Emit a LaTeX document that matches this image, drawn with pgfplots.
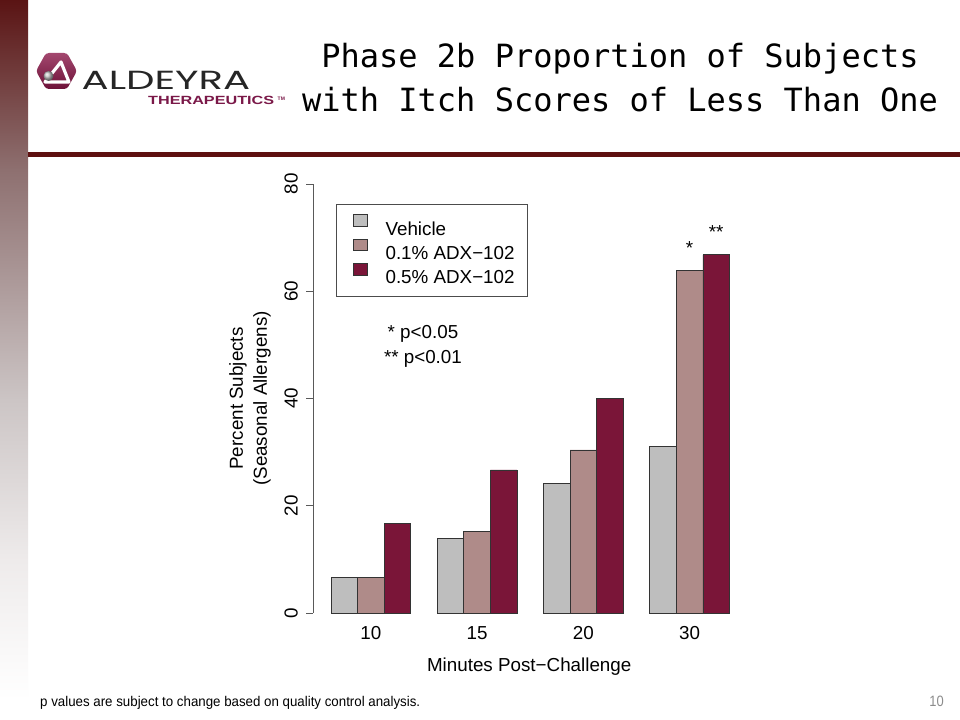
\documentclass[border=0pt]{standalone}
\usepackage{pgfplots}
\pgfplotsset{compat=1.18}
\usepackage{graphicx}
\usepackage{fontspec}
\setmainfont{Liberation Sans}
\newfontfamily\titlefont{DejaVu Sans Mono}
\newfontfamily\logofont{Poppins}
\newfontfamily\narrowfont{Liberation Sans}[FakeStretch=0.86]

\definecolor{vehc}{HTML}{BEBEBE}
\definecolor{lowc}{HTML}{AF8B89}
\definecolor{highc}{HTML}{7A1538}
\definecolor{rulec}{HTML}{5E1010}
\definecolor{logoc}{HTML}{8C1A4B}
\definecolor{logod}{HTML}{6E1238}
\definecolor{therac}{HTML}{7A1848}
\definecolor{sa}{HTML}{5A1414}
\definecolor{sb}{HTML}{8E7070}
\definecolor{sc}{HTML}{CCC5C5}
\definecolor{sd}{HTML}{EEEBEB}

\pgfdeclareverticalshading{leftbar}{100bp}{color(0bp)=(white); color(26.4bp)=(white); color(36.1bp)=(sd); color(47.2bp)=(sc); color(63.2bp)=(sb); color(75bp)=(sa); color(100bp)=(sa)}

\begin{document}
\begin{tikzpicture}[x=1bp,y=1bp]
\fill[white] (0,0) rectangle (960,720);
\useasboundingbox (0,0) rectangle (960,720);
\shade[shading=leftbar] (0,0) rectangle (28,720);
\fill[rulec] (28,563.3) rectangle (960,568.3);

% logo
\shade[top color=logoc!80!white, bottom color=logod, rounded corners=3bp]
  (36,649) -- (46,667) -- (67,667) -- (77,649) -- (67,631) -- (46,631) -- cycle;
\draw[white, line width=3.2bp, line join=round] (61,658) -- (45,638) -- (69,638) -- cycle;
\shade[ball color=black!25] (48.5,644) circle (5bp);
\node[anchor=south west, inner sep=0pt, text=black!85] at (81.5,630)
  {\resizebox{168.5bp}{18.3bp}{\logofont ALDEYRA}};
\node[anchor=south west, inner sep=0pt, text=therac] at (148,614.7)
  {\resizebox{126bp}{8.3bp}{\bfseries THERAPEUTICS}};
\node[anchor=north west, inner sep=0pt, text=therac, font=\bfseries\fontsize{5bp}{5bp}\selectfont] at (277.5,623)
  {TM};

% title
\node[anchor=base, inner sep=0pt, font=\titlefont\fontsize{32bp}{44bp}\selectfont] at (620,652)
  {Phase 2b Proportion of Subjects};
\node[anchor=base, inner sep=0pt, font=\titlefont\fontsize{32bp}{44bp}\selectfont] at (620,608)
  {with Itch Scores of Less Than One};

\begin{axis}[
  at={(313bp,107bp)}, anchor=south west,
  scale only axis, width=432.4bp, height=429bp,
  xmin=0.32, xmax=16.6, ymin=0, ymax=80,
  axis y line*=left, axis x line*=bottom,
  x axis line style={draw=none},
  y axis line style={black!65, line width=0.9bp},
  ytick={0,20,40,60,80},
  xtick={2.5,6.5,10.5,14.5}, xticklabels={10,15,20,30},
  tick align=outside,
  major tick length=7bp,
  xtick style={draw=none},
  ytick style={black!65, line width=0.9bp},
  yticklabel style={rotate=90, anchor=south, inner sep=0pt, yshift=8bp},
  xticklabel style={anchor=base, inner sep=0pt, yshift=-19.5bp},
  tick label style={font=\fontsize{18.8bp}{22bp}\selectfont},
  /pgf/number format/assume math mode=true,
  label style={font=\fontsize{18.8bp}{24bp}\selectfont},
  xlabel={Minutes Post−Challenge},
  xlabel style={at={(axis description cs:0.5,-0.1368)}, anchor=base, inner sep=0pt},
  ylabel={Percent Subjects\\(Seasonal Allergens)},
  ylabel style={at={(axis description cs:-0.1457,0.5)}, anchor=center, align=center, inner sep=0pt},
  ybar, bar width=1,
  clip=false,
  legend cell align=left,
  legend image code/.code={\path (0bp,0bp); \draw[#1, draw=black!80, line width=0.8bp] (3.6bp,1.5bp) rectangle (17.9bp,13.1bp);},
  legend style={at={(axis description cs:0.0532,0.9534)}, anchor=north west,
    draw=black!70, line width=0.9bp, inner xsep=13bp, inner ysep=10bp,
    row sep=1bp, column sep=17.4bp,
    font=\fontsize{18.8bp}{22bp}\selectfont,
    nodes={inner sep=0pt, text height=17bp, text depth=2.5bp}},
]
\addplot[bar shift=0pt, fill=vehc, draw=black!80, line width=0.8bp]
  coordinates {(1.5,6.67) (5.5,13.9) (9.5,24.2) (13.5,31.0)};
\addlegendentry{Vehicle}
\addplot[bar shift=0pt, fill=lowc, draw=black!80, line width=0.8bp]
  coordinates {(2.5,6.67) (6.5,15.2) (10.5,30.4) (14.5,63.8)};
\addlegendentry{0.1\% ADX−102}
\addplot[bar shift=0pt, fill=highc, draw=black!80, line width=0.8bp]
  coordinates {(3.5,16.67) (7.5,26.67) (11.5,40.0) (15.5,66.8)};
\addlegendentry{0.5\% ADX−102}

\node[anchor=base, inner sep=0pt, font=\fontsize{18.8bp}{22bp}\selectfont] at (axis cs:14.5,66.8) {*};
\node[anchor=base, inner sep=0pt, font=\fontsize{18.8bp}{22bp}\selectfont] at (axis cs:15.5,69.9) {**};
\node[anchor=base, inner sep=0pt, font=\fontsize{18.8bp}{22bp}\selectfont] at (axis cs:4.46,51.28) {* p<0.05};
\node[anchor=base, inner sep=0pt, font=\fontsize{18.8bp}{22bp}\selectfont] at (axis cs:4.46,46.49) {** p<0.01};
\end{axis}

% footer
\node[anchor=base west, inner sep=0pt] at (40,13.5)
  {\resizebox{380bp}{10.2bp}{\narrowfont\fontsize{14bp}{14bp}\selectfont p values are subject to change based on quality control analysis.}};
\node[anchor=base east, inner sep=0pt, text=black!45, font=\narrowfont\fontsize{15bp}{15bp}\selectfont] at (944,13.5) {10};
\end{tikzpicture}
\end{document}
